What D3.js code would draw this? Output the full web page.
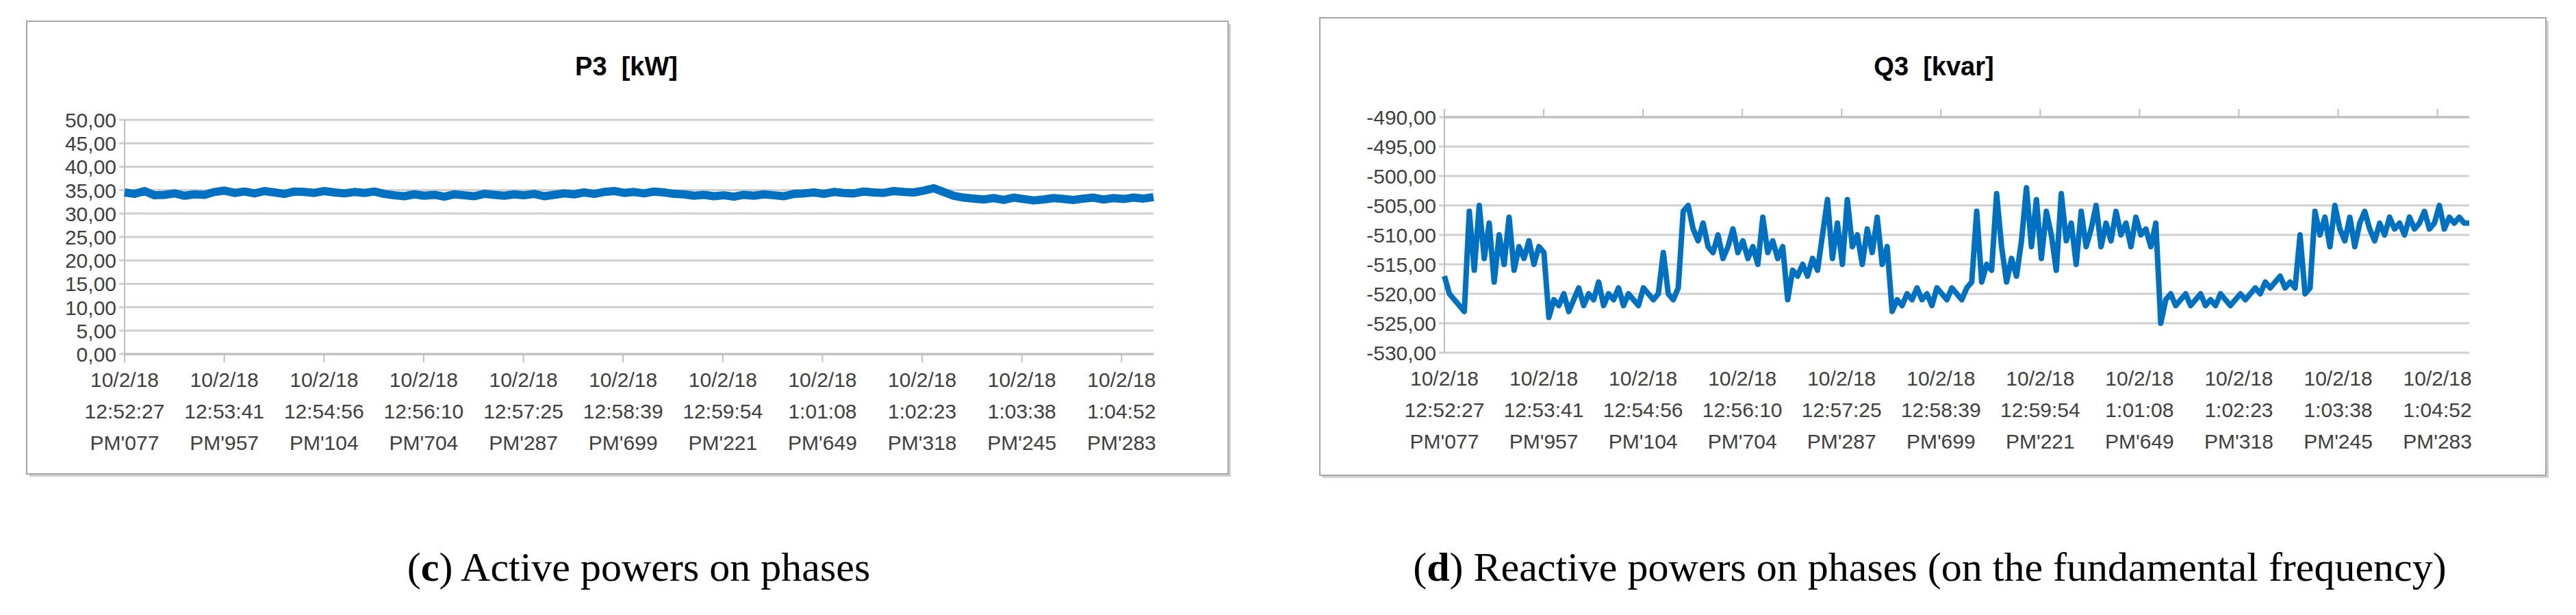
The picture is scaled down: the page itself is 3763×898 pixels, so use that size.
<!DOCTYPE html>
<html><head><meta charset="utf-8">
<script src="https://cdn.jsdelivr.net/npm/d3@7"></script>
<style>body{margin:0;background:#fff}</style>
</head><body>
<svg id="fig" width="3763" height="898"></svg>
<script>
// tick labels (three lines each)
var tickDates = ["10/2/18","10/2/18","10/2/18","10/2/18","10/2/18","10/2/18","10/2/18","10/2/18","10/2/18","10/2/18","10/2/18"];
var tickTimes = ["12:52:27","12:53:41","12:54:56","12:56:10","12:57:25","12:58:39","12:59:54","1:01:08","1:02:23","1:03:38","1:04:52"];
var tickMs = ["PM'077","PM'957","PM'104","PM'704","PM'287","PM'699","PM'221","PM'649","PM'318","PM'245","PM'283"];

var p3Values = [34.5,34.2,34.8,33.9,34.0,34.3,33.8,34.1,34.0,34.6,34.9,34.4,34.7,34.3,34.8,34.5,34.2,34.7,34.6,34.4,
  34.8,34.5,34.3,34.6,34.4,34.7,34.2,33.9,33.7,34.1,33.8,34.0,33.6,34.1,33.9,33.7,34.2,34.0,33.8,34.1,
  33.9,34.2,33.7,34.0,34.3,34.1,34.5,34.2,34.6,34.8,34.4,34.6,34.3,34.7,34.5,34.2,34.1,33.8,34.0,33.7,
  33.9,33.6,34.0,33.8,34.1,33.9,33.7,34.2,34.3,34.5,34.2,34.6,34.4,34.3,34.7,34.5,34.4,34.8,34.6,34.5,
  34.9,35.4,34.6,33.8,33.4,33.2,33.0,33.3,32.9,33.4,33.1,32.8,33.0,33.3,33.1,32.9,33.2,33.4,33.0,33.3,
  33.1,33.4,33.2,33.5];
var p3Ticks = [0,5,10,15,20,25,30,35,40,45,50];

var q3Values = [-517,-520,-521,-522,-523,-506,-516,-505,-514,-508,-518,-510,-515,-507,-516,-512,-514,-511,-515,-512,
  -513,-524,-521,-522,-520,-523,-521,-519,-522,-520,-521,-518,-522,-520,-521,-519,-522,-520,-521,-522,
  -519,-520,-521,-520,-513,-520,-521,-519,-506,-505,-509,-511,-508,-512,-513,-510,-514,-512,-509,-513,
  -511,-514,-512,-515,-507,-513,-511,-514,-512,-521,-516,-517,-515,-517,-514,-516,-510,-504,-514,-508,
  -515,-504,-512,-510,-515,-509,-513,-507,-515,-512,-523,-521,-522,-520,-521,-519,-521,-520,-522,-519,
  -520,-521,-519,-520,-521,-519,-518,-506,-518,-515,-516,-503,-512,-518,-514,-517,-511,-502,-512,-504,
  -514,-506,-510,-516,-503,-511,-508,-515,-506,-512,-509,-505,-512,-508,-511,-506,-510,-508,-512,-507,
  -510,-509,-512,-508,-525,-521,-520,-522,-521,-520,-522,-521,-520,-522,-521,-522,-520,-521,-522,-521,
  -520,-521,-520,-519,-520,-518,-519,-518,-517,-519,-518,-519,-510,-520,-519,-506,-510,-507,-512,-505,
  -509,-511,-507,-512,-508,-506,-509,-511,-508,-510,-507,-509,-508,-510,-507,-509,-508,-506,-509,-508,
  -505,-509,-507,-508,-507,-508,-508];
var q3Ticks = [-530,-525,-520,-515,-510,-505,-500,-495,-490];

var svg = d3.select("#fig");
var labelFont = "'Liberation Sans', Arial, sans-serif";
var fmt = d => d3.format(".2f")(d).replace(".", ",").replace("\u2212", "-");

function drawChart(c) {
  var g = svg.append("g");
  // frame with soft shadow
  g.append("rect").attr("x", c.fx + 4).attr("y", c.fy + 4).attr("width", c.fw).attr("height", c.fh).attr("fill", "#d0d0d0");
  g.append("rect").attr("x", c.fx).attr("y", c.fy).attr("width", c.fw).attr("height", c.fh)
    .attr("fill", "#fff").attr("stroke", "#a6a6a6").attr("stroke-width", 2);

  g.append("text").attr("x", c.tx).attr("y", 110).attr("text-anchor", "middle")
    .style("font-family", labelFont).style("font-size", "38px").style("font-weight", "bold")
    .attr("xml:space", "preserve").text(c.title);

  var x = d3.scaleLinear().domain([0, 10.32]).range([c.x0, c.x1]);
  var y = d3.scaleLinear().domain(c.domain).range([c.y1, c.y0]);

  // gridlines
  g.selectAll(".grid").data(c.ticks).enter().append("line")
    .attr("x1", c.x0 - 8).attr("x2", c.x1).attr("y1", d => y(d)).attr("y2", d => y(d))
    .attr("stroke", "#d0d0d0").attr("stroke-width", 3);
  g.selectAll(".ylab").data(c.ticks).enter().append("text")
    .attr("x", c.x0 - 12).attr("y", d => y(d) + 11).attr("text-anchor", "end")
    .style("font-family", labelFont).style("font-size", "30px").attr("fill", "#404040")
    .text(fmt);
  g.append("line").attr("x1", c.x0).attr("x2", c.x0).attr("y1", y(c.domain[1])).attr("y2", y(c.domain[0]))
    .attr("stroke", "#bfbfbf").attr("stroke-width", 2);

  // category axis (at baseline for P3, at top for Q3)
  var ay = c.axisTop ? y(c.domain[1]) : y(c.domain[0]);
  var dir = c.axisTop ? -1 : 1;
  g.append("line").attr("x1", c.x0).attr("x2", c.x1).attr("y1", ay).attr("y2", ay)
    .attr("stroke", "#bfbfbf").attr("stroke-width", 3);
  g.selectAll(".xt").data(d3.range(11)).enter().append("line")
    .attr("x1", d => x(d)).attr("x2", d => x(d)).attr("y1", ay).attr("y2", ay + dir * 12)
    .attr("stroke", "#bfbfbf").attr("stroke-width", 2);
  var lab = g.selectAll(".xl").data(d3.range(11)).enter().append("text")
    .attr("text-anchor", "middle")
    .style("font-family", labelFont).style("font-size", "30px").attr("fill", "#404040");
  [tickDates, tickTimes, tickMs].forEach(function (arr, r) {
    lab.append("tspan").attr("x", d => x(d)).attr("y", c.y1 + 48 + r * 46).text(d => arr[d]);
  });

  var step = 10.32 / (c.values.length - 1);
  var line = d3.line().x((d, i) => x(i * step)).y(d => y(d));
  g.append("path").datum(c.values).attr("d", line)
    .attr("fill", "none").attr("stroke", "#0070c0").attr("stroke-width", c.sw).attr("stroke-linejoin", "round");

  var cap = svg.append("text").attr("x", c.cx).attr("y", 848).attr("text-anchor", "middle")
    .style("font-family", "'Liberation Serif', 'DejaVu Serif', serif").style("font-size", "60px");
  cap.append("tspan").text("(");
  cap.append("tspan").style("font-weight", "bold").text(c.letter);
  cap.append("tspan").text(") " + c.caption);
}

drawChart({fx: 39, fy: 31, fw: 1755, fh: 661, tx: 915, title: "P3  [kW]",
  x0: 182, x1: 1685, y0: 175, y1: 517, domain: [0, 50], ticks: p3Ticks, values: p3Values, sw: 12,
  axisTop: false, cx: 933, letter: "c", caption: "Active powers on phases"});
drawChart({fx: 1928, fy: 26, fw: 1791, fh: 668, tx: 2825, title: "Q3  [kvar]",
  x0: 2110, x1: 3607, y0: 171, y1: 515, domain: [-530, -490], ticks: q3Ticks, values: q3Values, sw: 8,
  axisTop: true, cx: 2819, letter: "d", caption: "Reactive powers on phases (on the fundamental frequency)"});
</script>
</body></html>
